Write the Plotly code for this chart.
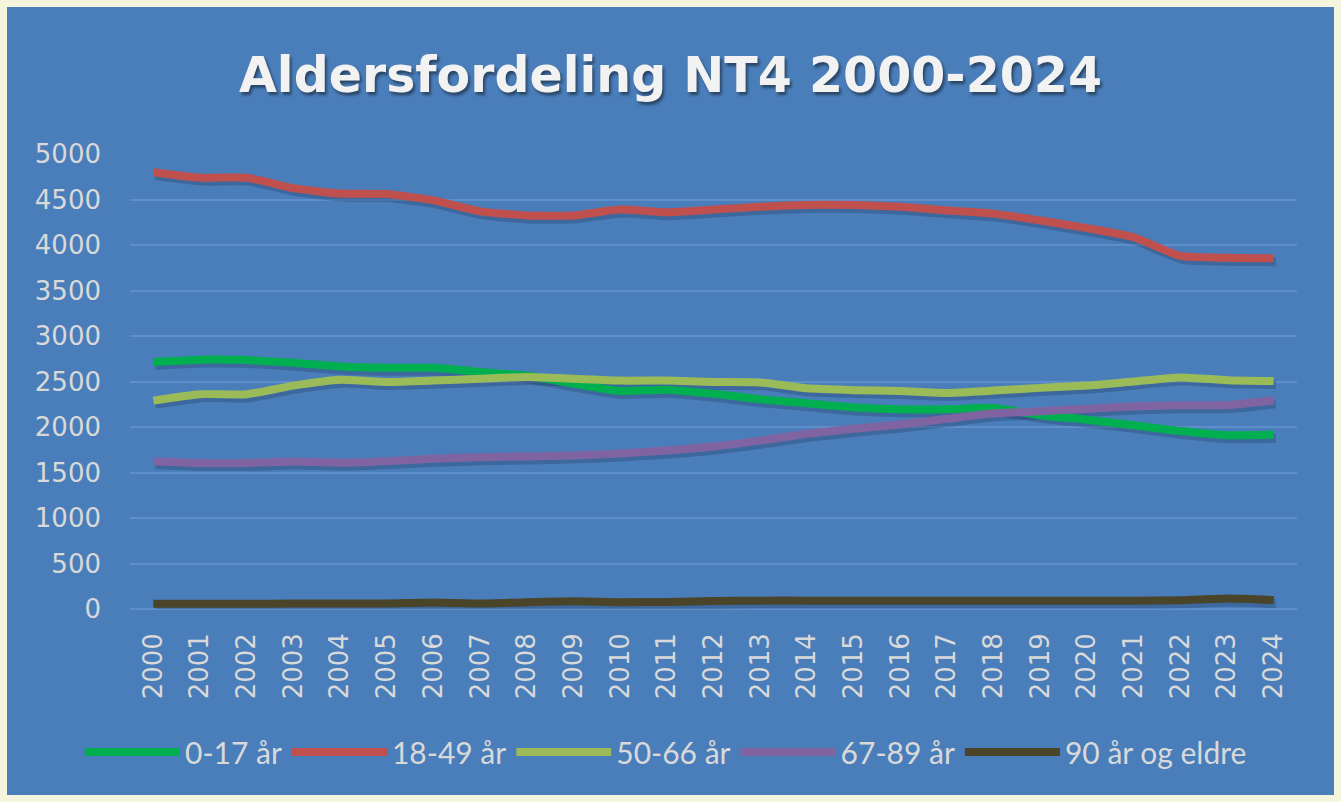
import plotly.graph_objects as go

YEARS = list(range(2000, 2025))
SERIES_NAMES = ["0-17 år", "18-49 år", "50-66 år", "67-89 år", "90 år og eldre"]

AGE_0_17 = [2715, 2740, 2735, 2705, 2665, 2650, 2650, 2605, 2565, 2475, 2395, 2410, 2365, 2305,
            2260, 2215, 2195, 2195, 2210, 2130, 2080, 2020, 1955, 1910, 1915]
AGE_18_49 = [4800, 4740, 4740, 4625, 4565, 4560, 4490, 4370, 4325, 4325, 4390, 4360, 4390, 4420,
             4440, 4440, 4420, 4380, 4345, 4270, 4185, 4085, 3880, 3860, 3855]
AGE_50_66 = [2290, 2360, 2360, 2455, 2520, 2495, 2510, 2530, 2550, 2530, 2510, 2510, 2495, 2490,
             2425, 2405, 2395, 2375, 2400, 2430, 2455, 2500, 2545, 2515, 2505]
AGE_67_89 = [1625, 1605, 1605, 1620, 1608, 1625, 1650, 1668, 1676, 1688, 1708, 1742, 1786, 1850,
             1925, 1980, 2028, 2090, 2150, 2172, 2200, 2226, 2238, 2240, 2292]
AGE_90 = [58, 58, 58, 60, 60, 60, 72, 60, 75, 85, 75, 78, 88, 92, 92, 92, 92, 92, 92, 92, 92, 92,
          95, 115, 98]

COLORS = ["#00B050", "#C0504D", "#9BBB59", "#8064A2", "#4A4429"]
Y_TICKS = list(range(0, 5001, 500))

# layout constants (pixels)
W, H = 1341, 802
PL, PR, PT, PB = 130, 1297, 154, 609
BORDER = 7
pw, ph = PR - PL, PB - PT

fig = go.Figure()

# soft drop shadows under each line (derived from the data)
for vals in [AGE_0_17, AGE_18_49, AGE_50_66, AGE_67_89, AGE_90]:
    fig.add_trace(go.Scatter(
        x=[y + 0.045 for y in YEARS], y=[v - 38 for v in vals], mode="lines",
        line=dict(color="rgba(25,45,85,0.28)", width=9, shape="spline", smoothing=0.5),
        showlegend=False, hoverinfo="skip"))

for name, vals, col in zip(SERIES_NAMES, [AGE_0_17, AGE_18_49, AGE_50_66, AGE_67_89, AGE_90], COLORS):
    fig.add_trace(go.Scatter(
        x=YEARS, y=vals, name=name, mode="lines",
        line=dict(color=col, width=8, shape="spline", smoothing=0.5)))

fig.add_shape(type="rect", xref="paper", yref="paper", layer="below",
              x0=(BORDER - PL) / pw, x1=(W - BORDER - PL) / pw,
              y0=(PB - (H - BORDER)) / ph, y1=(PB - BORDER) / ph,
              fillcolor="#4A7EBA", line=dict(width=0))

fig.update_layout(
    width=W, height=H,
    margin=dict(l=PL, r=W - PR, t=PT, b=H - PB, autoexpand=False),
    paper_bgcolor="#F5F4DC",
    plot_bgcolor="#4A7EBA",
    title=dict(text="Aldersfordeling NT4 2000-2024", x=0.5, xref="container", xanchor="center",
               y=1 - 75 / H, yref="container", yanchor="middle",
               font=dict(family="DejaVu Sans", size=49, color="#F2F2F2", weight="bold",
                         shadow="2px 3px 3px rgba(0,0,0,0.45)")),
    xaxis=dict(range=[1999.5, 2024.5], tickvals=YEARS, ticktext=[str(y) for y in YEARS],
               tickangle=-90, showgrid=False, zeroline=False, showline=False, ticks="",
               tickfont=dict(family="DejaVu Sans", size=26, color="#D9D9D9"),
               ticklabelstandoff=18, automargin=False),
    yaxis=dict(range=[0, 5000], tickvals=Y_TICKS, showgrid=True, gridcolor="#5E8FCA",
               gridwidth=2, zeroline=True, zerolinecolor="#5E8FCA", zerolinewidth=2,
               showline=False, ticks="",
               tickfont=dict(family="DejaVu Sans", size=26, color="#D9D9D9"),
               ticklabelstandoff=28, automargin=False),
    legend=dict(orientation="h", x=(80 - PL) / pw, xanchor="left",
                y=(PB - 752) / ph, yanchor="middle",
                font=dict(family="Lato", size=30, color="#D9D9D9"),
                bgcolor="rgba(0,0,0,0)", itemwidth=95),
    showlegend=True,
)

fig.write_html("out.html", config={"displayModeBar": False},
               post_script="document.body.style.margin='0';document.body.style.overflow='hidden';")
